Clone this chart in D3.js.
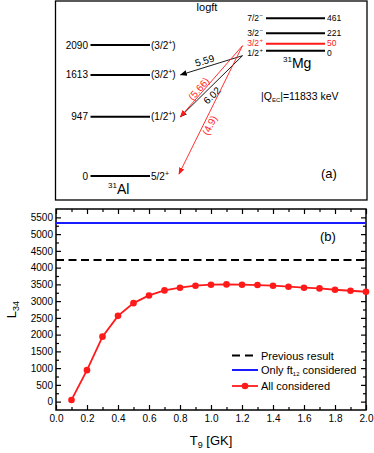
<!DOCTYPE html>
<html>
<head>
<meta charset="utf-8">
<script src="https://cdn.jsdelivr.net/npm/d3@7"></script>
<style>
  body { margin: 0; background: #fff; }
  svg { display: block; font-family: "Liberation Sans", Arial, sans-serif; }
</style>
</head>
<body>
<div id="chart"></div>
<script>
// level scheme data (panel a)
const alEnergies = [0, 947, 1613, 2090];
const alSpins = [["5/2", "+", ""], ["(1/2", "+", ")"], ["(3/2", "+", ")"], ["(3/2", "+", ")"]];
const mgEnergies = [0, 50, 221, 461];
const mgSpins = [["1/2", "+"], ["3/2", "+"], ["3/2", "\u2212"], ["7/2", "\u2212"]];
const mgHighlight = [50];
const qEC = 11833;

// beta transitions: parent level (Mg) -> daughter level (Al)
const transParent = [0, 0, 50, 50];
const transDaughter = [1613, 947, 947, 0];
const transLogft = ["5.59", "6.02", "(5.66)", "(4.9)"];

// panel b data
const tempT9 = [0.1, 0.2, 0.3, 0.4, 0.5, 0.6, 0.7, 0.8, 0.9, 1.0,
                1.1, 1.2, 1.3, 1.4, 1.5, 1.6, 1.7, 1.8, 1.9, 2.0];
const l34All = [50, 940, 1940, 2560, 2940, 3170, 3320, 3400, 3460, 3490,
                3500, 3490, 3480, 3460, 3430, 3400, 3380, 3340, 3310, 3280];
const previousResult = 4230;
const onlyFt12 = 5330;
const legendLabels = ["Previous result", "Only ft", "All considered"];

const width = 374, height = 453;
const red = "#ff1a1a", blue = "#1a1aff";

const svg = d3.select("#chart").append("svg")
    .attr("width", width)
    .attr("height", height);

// ---------------- panel (a) ----------------
const panelA = svg.append("g");
panelA.append("rect")
    .attr("x", 55.5).attr("y", 1).attr("width", 311.5).attr("height", 199)
    .attr("fill", "none").attr("stroke", "#000").attr("stroke-width", 1.3);

const yAl = d3.scaleLinear().domain([0, 2090]).range([176, 45]);
// schematic spacing for the Mg levels
const yMg = d3.scaleLinear().domain([0, 50, 221, 461]).range([50.7, 43.7, 33.3, 18.3]);

function spinText(sel, parts, size) {
    sel.append("tspan").text(parts[0]);
    sel.append("tspan").attr("dy", -4).attr("font-size", size - 3).text(parts[1]);
    if (parts[2] !== undefined && parts[2] !== "")
        sel.append("tspan").attr("dy", 4).text(parts[2]);
}

// 31Al levels
alEnergies.forEach((e, i) => {
    panelA.append("line")
        .attr("x1", 90.5).attr("x2", 150).attr("y1", yAl(e)).attr("y2", yAl(e))
        .attr("stroke", "#000").attr("stroke-width", 2);
    panelA.append("text")
        .attr("x", 88).attr("y", yAl(e) + 3.5)
        .attr("text-anchor", "end").attr("font-size", 10)
        .text(e);
    const t = panelA.append("text")
        .attr("x", 151).attr("y", yAl(e) + 3.5).attr("font-size", 10);
    spinText(t, alSpins[i], 10);
});

// 31Mg levels
mgEnergies.forEach((e, i) => {
    const c = mgHighlight.includes(e) ? red : "#000";
    const shift = i === 0 ? 2.4 : (i === 1 ? -1 : 0);
    panelA.append("line")
        .attr("x1", 266).attr("x2", 325).attr("y1", yMg(e)).attr("y2", yMg(e))
        .attr("stroke", c).attr("stroke-width", 2);
    panelA.append("text")
        .attr("x", 327).attr("y", yMg(e) + 3 + shift).attr("font-size", 8.5)
        .attr("fill", c).text(e);
    panelA.append("text")
        .attr("x", 259).attr("y", yMg(e) + 3 + shift)
        .attr("text-anchor", "end").attr("font-size", 8.5).attr("fill", c)
        .text(mgSpins[i][0]);
    panelA.append("text")
        .attr("x", 259.5).attr("y", yMg(e) - 1 + shift)
        .attr("font-size", 6).attr("fill", c).text(mgSpins[i][1]);
});

// nucleus names
const mgName = panelA.append("text").attr("x", 283).attr("y", 68);
mgName.append("tspan").attr("font-size", 8).attr("dy", -6).text("31");
mgName.append("tspan").attr("font-size", 14).attr("dy", 6).text("Mg");
const alName = panelA.append("text").attr("x", 108).attr("y", 194);
alName.append("tspan").attr("font-size", 8).attr("dy", -6).text("31");
alName.append("tspan").attr("font-size", 14).attr("dy", 6).text("Al");

panelA.append("text").attr("x", 207).attr("y", 11).attr("text-anchor", "middle")
    .attr("font-size", 11).text("logft");

const q = panelA.append("text").attr("x", 261).attr("y", 100).attr("font-size", 10.5);
q.append("tspan").text("|Q");
q.append("tspan").attr("font-size", 6).attr("dy", 2).text("EC");
q.append("tspan").attr("dy", -2).text("|=" + qEC + " keV");

panelA.append("text").attr("x", 321).attr("y", 178).attr("font-size", 13).text("(a)");

// arrows
const defs = svg.append("defs");
[["arrBlack", "#000"], ["arrRed", red]].forEach(([id, c]) => {
    defs.append("marker")
        .attr("id", id).attr("viewBox", "0 0 10 10")
        .attr("refX", 9).attr("refY", 5)
        .attr("markerWidth", 7).attr("markerHeight", 7)
        .attr("markerUnits", "userSpaceOnUse")
        .attr("orient", "auto")
        .append("path").attr("d", "M0,1 L10,5 L0,9 Z").attr("fill", c);
});

const arrowStartX = 242.5, arrowEndX = 180.5;
const labelT = [0.58, 0.57, 0.65, 0.6];
const labelOff = [-6.5, 7, -4.5, 6];
transParent.forEach((p, i) => {
    const hl = mgHighlight.includes(p);
    const c = hl ? red : "#000";
    const x1 = arrowStartX, y1 = yMg(p) + (hl ? 2 : 5);
    const x2 = arrowEndX - (transDaughter[i] === 0 ? 1.5 : 0);
    const y2 = yAl(transDaughter[i]) - (transDaughter[i] === 0 ? 2 : 0);
    panelA.append("line")
        .attr("x1", x1).attr("y1", y1).attr("x2", x2).attr("y2", y2)
        .attr("stroke", c).attr("stroke-width", 0.9)
        .attr("marker-end", `url(#${hl ? "arrRed" : "arrBlack"})`);
    const dx = x2 - x1, dy = y2 - y1, len = Math.hypot(dx, dy);
    const ux = -dx / len, uy = -dy / len;          // reading direction (upwards-right)
    const nx = -uy, ny = ux;                        // normal
    const cx = x1 + dx * labelT[i] + nx * labelOff[i];
    const cy = y1 + dy * labelT[i] + ny * labelOff[i];
    const ang = Math.atan2(uy, ux) * 180 / Math.PI;
    panelA.append("text")
        .attr("transform", `translate(${cx},${cy}) rotate(${ang})`)
        .attr("text-anchor", "middle").attr("dominant-baseline", "central")
        .attr("font-size", 10).attr("fill", c)
        .text(transLogft[i]);
});

// ---------------- panel (b) ----------------
const pl = 56, pr = 366, pt = 209, pb = 410;
const x = d3.scaleLinear().domain([0, 2]).range([pl, pr]);
const y = d3.scaleLinear().domain([-250, 5750]).range([pb, pt]);

const panelB = svg.append("g");
const majorX = [0, 0.2, 0.4, 0.6, 0.8, 1.0, 1.2, 1.4, 1.6, 1.8, 2.0];
const minorX = [0.1, 0.3, 0.5, 0.7, 0.9, 1.1, 1.3, 1.5, 1.7, 1.9];
const majorY = d3.range(0, 5501, 500), minorY = d3.range(250, 5750, 500);

function styleAxis(g) {
    g.select(".domain").remove();
    g.selectAll(".tick line").attr("stroke-width", 1.2);
    g.selectAll("text").attr("font-size", 10).attr("font-family", "Liberation Sans, Arial, sans-serif");
}

panelB.append("g").attr("transform", `translate(0,${pb})`)
    .call(d3.axisBottom(x).tickValues(majorX).tickSize(-5).tickPadding(5).tickFormat(d3.format(".1f")))
    .call(styleAxis);
panelB.append("g").attr("transform", `translate(0,${pb})`)
    .call(d3.axisBottom(x).tickValues(minorX).tickSize(-3).tickFormat(""))
    .call(styleAxis);
panelB.append("g").attr("transform", `translate(0,${pt})`)
    .call(d3.axisTop(x).tickValues(majorX).tickSize(-5).tickFormat(""))
    .call(styleAxis);
panelB.append("g").attr("transform", `translate(0,${pt})`)
    .call(d3.axisTop(x).tickValues(minorX).tickSize(-3).tickFormat(""))
    .call(styleAxis);
panelB.append("g").attr("transform", `translate(${pl},0)`)
    .call(d3.axisLeft(y).tickValues(majorY).tickSize(-5).tickPadding(3).tickFormat(d3.format("d")))
    .call(styleAxis);
panelB.append("g").attr("transform", `translate(${pl},0)`)
    .call(d3.axisLeft(y).tickValues(minorY).tickSize(-3).tickFormat(""))
    .call(styleAxis);
panelB.append("g").attr("transform", `translate(${pr},0)`)
    .call(d3.axisRight(y).tickValues(majorY).tickSize(-5).tickFormat(""))
    .call(styleAxis);
panelB.append("g").attr("transform", `translate(${pr},0)`)
    .call(d3.axisRight(y).tickValues(minorY).tickSize(-3).tickFormat(""))
    .call(styleAxis);

panelB.append("rect")
    .attr("x", pl).attr("y", pt).attr("width", pr - pl).attr("height", pb - pt)
    .attr("fill", "none").attr("stroke", "#000").attr("stroke-width", 1.5);

// horizontal reference lines
panelB.append("line")
    .attr("x1", x(0)).attr("x2", x(2)).attr("y1", y(onlyFt12)).attr("y2", y(onlyFt12))
    .attr("stroke", blue).attr("stroke-width", 2);
panelB.append("line")
    .attr("x1", x(0)).attr("x2", x(2)).attr("y1", y(previousResult)).attr("y2", y(previousResult))
    .attr("stroke", "#000").attr("stroke-width", 2).attr("stroke-dasharray", "8,4.5");

// all considered
panelB.append("path")
    .datum(tempT9.map((t, i) => [t, l34All[i]]))
    .attr("fill", "none").attr("stroke", red).attr("stroke-width", 1.8)
    .attr("d", d3.line().x(d => x(d[0])).y(d => y(d[1])));
panelB.selectAll("circle.pt")
    .data(tempT9.map((t, i) => [t, l34All[i]]))
    .join("circle").attr("class", "pt")
    .attr("cx", d => x(d[0])).attr("cy", d => y(d[1])).attr("r", 3.3)
    .attr("fill", red);

// legend
const legY = [355.5, 370, 386];
const lg = panelB.append("g");
lg.append("line").attr("x1", 232).attr("x2", 258).attr("y1", legY[0]).attr("y2", legY[0])
    .attr("stroke", "#000").attr("stroke-width", 2).attr("stroke-dasharray", "8,5");
lg.append("line").attr("x1", 232).attr("x2", 258).attr("y1", legY[1]).attr("y2", legY[1])
    .attr("stroke", blue).attr("stroke-width", 2);
lg.append("line").attr("x1", 232).attr("x2", 258).attr("y1", legY[2]).attr("y2", legY[2])
    .attr("stroke", red).attr("stroke-width", 1.8);
lg.append("circle").attr("cx", 245).attr("cy", legY[2]).attr("r", 3.3).attr("fill", red);
lg.append("text").attr("x", 261).attr("y", legY[0] + 4).attr("font-size", 11).text(legendLabels[0]);
const l2 = lg.append("text").attr("x", 261).attr("y", legY[1] + 4).attr("font-size", 11);
l2.append("tspan").text(legendLabels[1]);
l2.append("tspan").attr("font-size", 6).attr("dy", 2).text("12");
l2.append("tspan").attr("dy", -2).text(" considered");
lg.append("text").attr("x", 261).attr("y", legY[2] + 4).attr("font-size", 11).text(legendLabels[2]);

panelB.append("text").attr("x", 320).attr("y", 241).attr("font-size", 13).text("(b)");

// axis titles
const xt = panelB.append("text").attr("x", 211).attr("y", 445)
    .attr("text-anchor", "middle").attr("font-size", 13);
xt.append("tspan").text("T");
xt.append("tspan").attr("font-size", 9).attr("dy", 3).text("9");
xt.append("tspan").attr("dy", -3).text(" [GK]");

const yt = panelB.append("text")
    .attr("transform", `translate(16,${(pt + pb) / 2}) rotate(-90)`)
    .attr("text-anchor", "middle").attr("font-size", 13);
yt.append("tspan").text("L");
yt.append("tspan").attr("font-size", 9).attr("dy", 3).text("34");
</script>
</body>
</html>
